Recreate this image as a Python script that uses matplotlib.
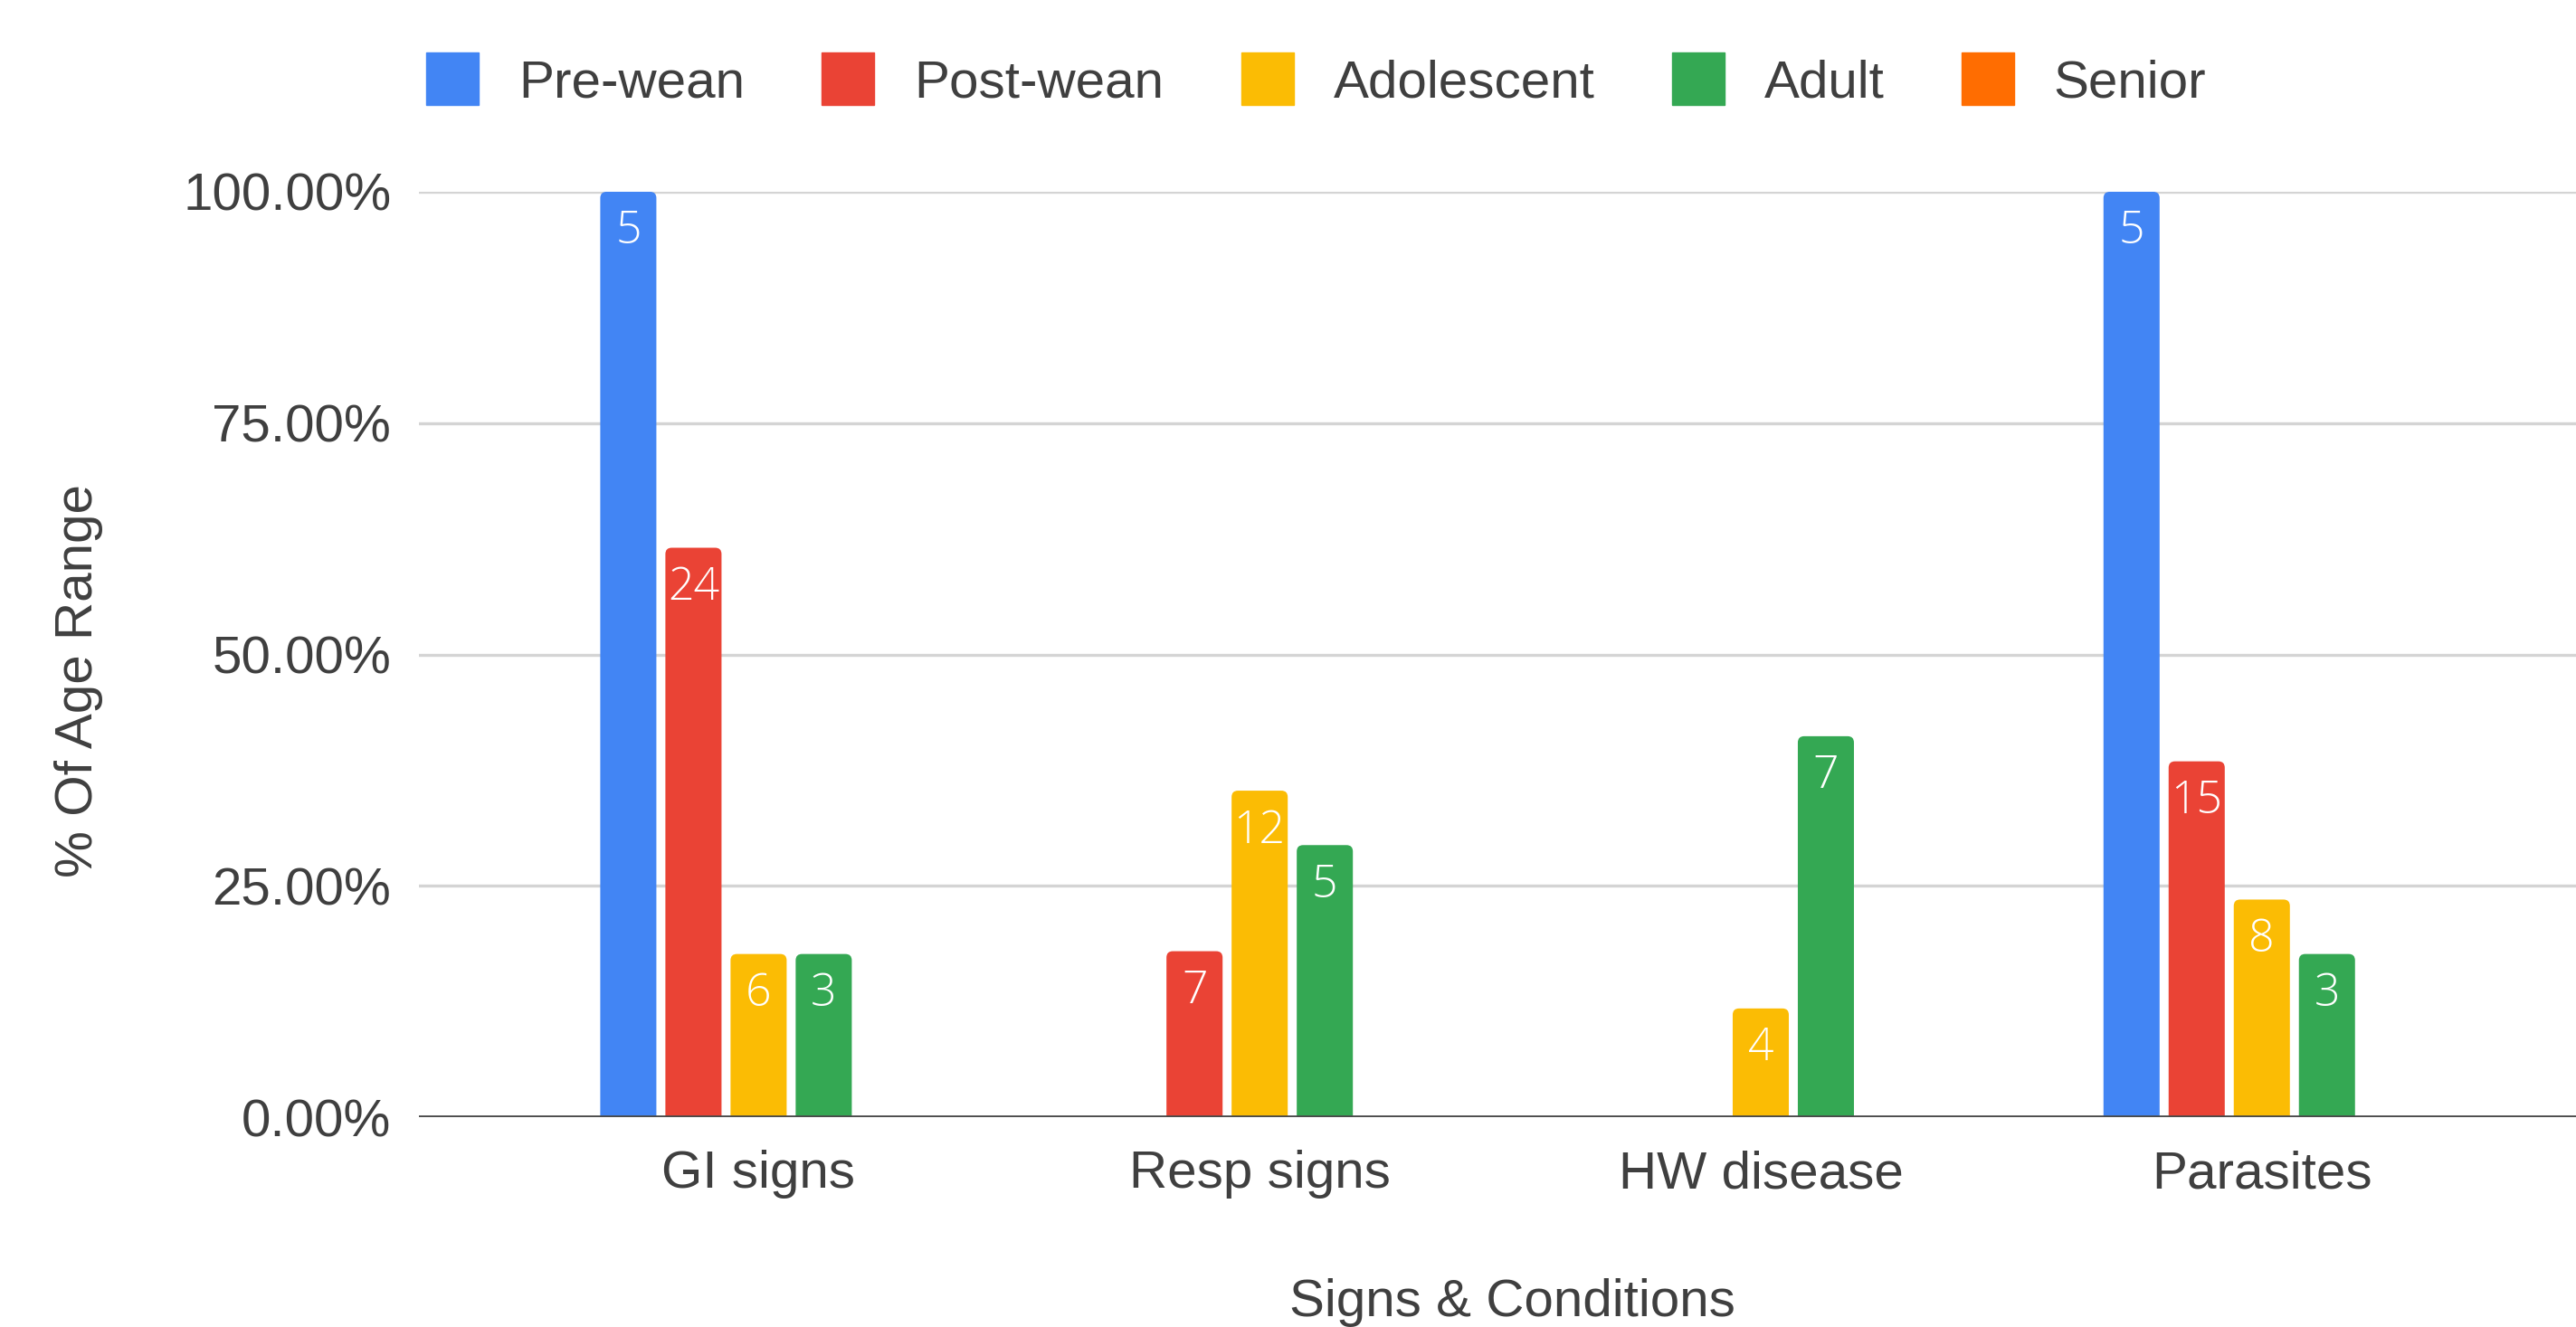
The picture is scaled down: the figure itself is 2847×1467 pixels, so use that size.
import matplotlib.pyplot as plt
from matplotlib.lines import Line2D
from matplotlib.patches import FancyBboxPatch
from matplotlib.ticker import PercentFormatter
import numpy as np

CATEGORIES = ["GI signs", "Resp signs", "HW disease", "Parasites"]
AGE_GROUPS = ["Pre-wean", "Post-wean", "Adolescent", "Adult", "Senior"]
COLORS     = ["#4285F4", "#EA4335", "#FBBC04", "#34A853", "#FF6D01"]

# case counts per age group, one value per category
PRE_WEAN   = [5, 0, 0, 5]
POST_WEAN  = [24, 7, 0, 15]
ADOLESCENT = [6, 12, 4, 8]
ADULT      = [3, 5, 7, 3]
SENIOR     = [0, 0, 0, 0]

# animals in each age range (denominator for the percentages)
GROUP_TOTALS = [5, 39, 34, 17, None]

COUNTS = [PRE_WEAN, POST_WEAN, ADOLESCENT, ADULT, SENIOR]

FONT = ["Liberation Sans", "DejaVu Sans"]
TEXT_COLOR = "#3f3f3f"

fig = plt.figure(figsize=(28.47, 14.67), dpi=100)
ax = fig.add_axes([0.1626, 0.158, 0.8374, 0.6975])

x = np.arange(len(CATEGORIES))
slot = 0.130
width = 0.112

ax.set_ylim(0, 1)
ax.set_xlim(-0.678, 3.627)

# rounding for bar corners, same pixel radius on both axes
bbox = ax.get_window_extent()
px_x = bbox.width / (ax.get_xlim()[1] - ax.get_xlim()[0])
px_y = bbox.height / (ax.get_ylim()[1] - ax.get_ylim()[0])
r_x = 7 / px_x
aspect = px_x / px_y

for i, (name, counts, total, color) in enumerate(zip(AGE_GROUPS, COUNTS, GROUP_TOTALS, COLORS)):
    pct = [c / total if total else 0.0 for c in counts]
    xs = x + (i - 2) * slot
    bars = ax.bar(xs, pct, width=width, color=color, zorder=3)
    for rect in bars:
        h = rect.get_height()
        if h <= 0:
            continue
        rect.set_visible(False)
        # start a little below zero so only the top corners look rounded
        ax.add_patch(FancyBboxPatch((rect.get_x(), -r_x * aspect), width, h + r_x * aspect,
                                    boxstyle=f"round,pad=0,rounding_size={r_x}",
                                    mutation_aspect=aspect, facecolor=color,
                                    edgecolor="none", zorder=3))
    for xi, p, c in zip(xs, pct, counts):
        if c > 0:
            ax.annotate(str(c), xy=(xi, p), xytext=(0, -14), textcoords="offset points",
                        ha="center", va="top", color="white", fontsize=36,
                        family=["Open Sans", "DejaVu Sans"], fontweight="light", zorder=4)

ax.set_yticks([0, 0.25, 0.5, 0.75, 1.0])
ax.yaxis.set_major_formatter(PercentFormatter(1.0, decimals=2))
ax.set_xticks(x)
ax.set_xticklabels(CATEGORIES)

ax.grid(axis="y", color="#d4d4d4", linewidth=2.4, zorder=0)
ax.axhline(0, color="#4a4a4a", linewidth=3.4, zorder=5)
for s in ax.spines.values():
    s.set_visible(False)
ax.tick_params(length=0, labelsize=42, labelcolor=TEXT_COLOR)
ax.tick_params(axis="y", pad=22)
ax.tick_params(axis="x", pad=26)
for lbl in ax.get_xticklabels() + ax.get_yticklabels():
    lbl.set_family(FONT)

ax.set_ylabel("% Of Age Range", fontsize=42, color=TEXT_COLOR, family=FONT)
ax.set_xlabel("Signs & Conditions", fontsize=42, color=TEXT_COLOR, family=FONT)
ax.yaxis.set_label_coords(-0.1464, 0.4713)
ax.xaxis.set_label_coords(0.507, -0.174)

handles = [Line2D([], [], marker="s", linestyle="", color=c, markersize=42) for c in COLORS]
fig.legend(handles, AGE_GROUPS, loc="center left", bbox_to_anchor=(0.1654, 0.937),
           ncol=5, frameon=False, borderpad=0, borderaxespad=0,
           handlelength=1.0, handletextpad=0.75, columnspacing=1.46,
           prop={"family": FONT, "size": 42}, labelcolor=TEXT_COLOR)

fig.savefig("out.png", dpi=100, facecolor="white")
